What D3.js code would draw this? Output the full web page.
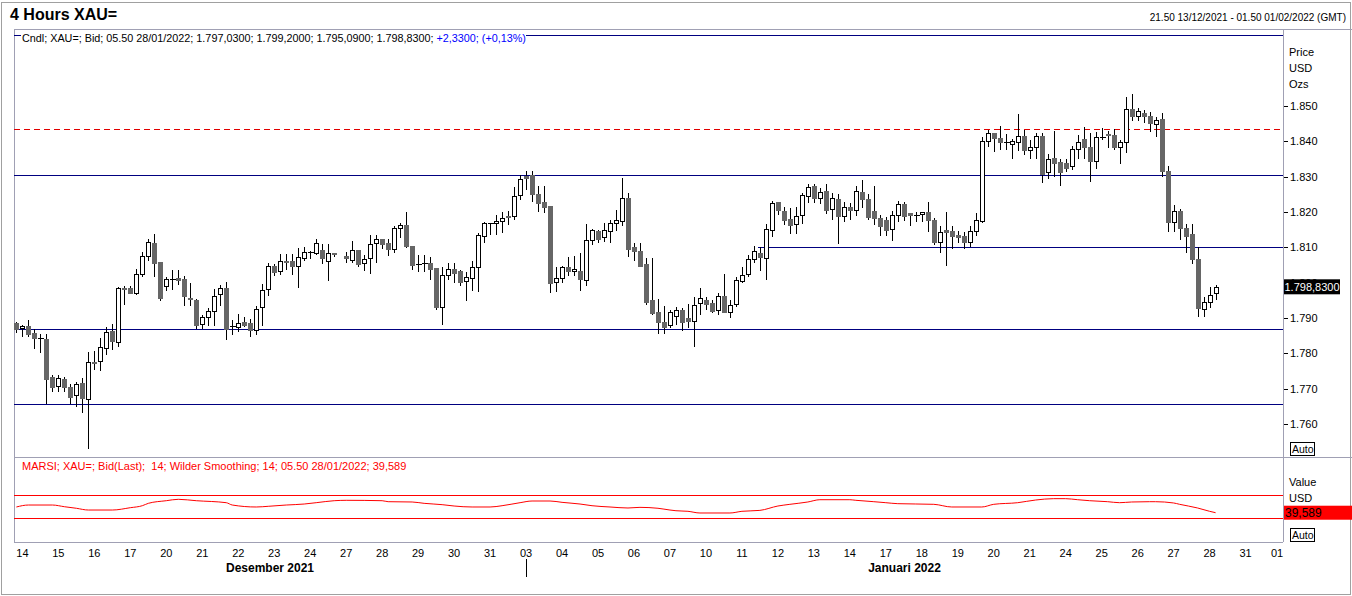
<!DOCTYPE html>
<html>
<head>
<meta charset="utf-8">
<script src="https://cdn.jsdelivr.net/npm/d3@7/dist/d3.min.js"></script>
<style>
  html, body { margin: 0; padding: 0; background: #fff; }
  svg { display: block; font-family: Arial, 'Liberation Sans', sans-serif; }
  text { white-space: pre; }
</style>
</head>
<body>
<svg id="chart" width="1352" height="596"></svg>
<script>
// trading days on the time axis, six 4h slots per day
const dayLabels = ['14', '15', '16', '17', '20', '21', '22', '23', '24', '27', '28', '29', '30', '31',
  '03', '04', '05', '06', '07', '10', '11', '12', '13', '14', '17', '18', '19', '20', '21',
  '24', '25', '26', '27', '28', '31', '01'];
const monthLabels = ['Desember 2021', 'Januari 2022'];
const monthFirstDay = [0, 14];

const priceTicks = [1760, 1770, 1780, 1790, 1800, 1810, 1820, 1830, 1840, 1850];

// horizontal lines drawn on the price panel
const levelPrice = [1870.1, 1843.4, 1830.4, 1810.1, 1786.9, 1765.6];
const levelFromSlot = [null, null, null, 123.7, null, null];
const levelDashed = [false, true, false, false, false, false];

// 4h candles [open, high, low, close], null = empty slot
const candles = [
  [1788.6, 1788.9, 1785.8, 1787.0], [1786.9, 1787.9, 1784.5, 1787.6], [1787.7, 1789.4, 1784.5, 1785.5],
  [1785.7, 1787.0, 1781.1, 1784.4], [1784.3, 1785.4, 1780.2, 1784.3], [1784.0, 1785.4, 1765.6, 1772.8],
  [1773.2, 1773.8, 1769.1, 1770.5], [1770.5, 1773.8, 1769.1, 1772.9], [1772.6, 1773.2, 1769.1, 1770.3],
  [1770.5, 1771.3, 1765.6, 1767.7], [1768.1, 1771.8, 1764.9, 1771.2], [1771.5, 1772.9, 1763.2, 1767.2],
  [1767.2, 1780.4, 1753.0, 1777.6], [1777.6, 1780.6, 1775.3, 1777.3], [1777.6, 1784.2, 1775.1, 1781.7],
  [1781.7, 1787.5, 1779.5, 1786.1], [1786.4, 1788.3, 1780.9, 1783.6], [1783.0, 1798.8, 1781.9, 1798.4],
  [1798.6, 1799.0, 1793.7, 1798.3], [1798.6, 1799.0, 1796.8, 1797.1], [1797.1, 1804.0, 1796.5, 1802.4],
  [1802.4, 1808.7, 1801.5, 1807.5], [1807.5, 1812.5, 1806.2, 1811.4], [1811.3, 1813.9, 1801.5, 1805.6],
  [1805.8, 1805.8, 1794.9, 1795.6], [1799.0, 1801.5, 1797.7, 1800.9], [1800.9, 1803.7, 1797.9, 1800.9],
  [1801.2, 1803.7, 1799.3, 1800.5], [1800.9, 1801.9, 1793.4, 1796.0], [1795.8, 1799.8, 1793.4, 1795.4],
  [1795.2, 1795.4, 1786.8, 1788.0], [1788.3, 1790.8, 1787.0, 1790.2], [1790.2, 1792.7, 1787.7, 1792.0],
  [1792.0, 1798.1, 1787.7, 1796.2], [1796.8, 1799.3, 1793.4, 1798.6], [1798.4, 1800.3, 1783.8, 1786.8],
  [1787.5, 1789.4, 1785.2, 1787.6], [1787.5, 1791.0, 1786.1, 1788.5], [1788.9, 1790.4, 1787.5, 1788.1],
  [1788.5, 1789.6, 1784.5, 1786.6], [1786.6, 1793.4, 1785.2, 1792.5], [1793.0, 1799.6, 1787.7, 1797.9],
  [1798.1, 1805.5, 1796.2, 1804.7], [1804.7, 1805.3, 1801.9, 1803.1], [1803.2, 1808.1, 1802.1, 1806.0],
  [1806.1, 1808.0, 1803.6, 1805.7], [1806.2, 1808.1, 1802.1, 1804.8], [1804.7, 1809.7, 1798.4, 1807.2],
  [1806.9, 1810.2, 1806.0, 1808.6], [1808.7, 1809.1, 1806.6, 1808.8], [1808.6, 1812.3, 1807.7, 1811.3],
  [1809.2, 1810.9, 1805.3, 1806.8], [1806.0, 1810.9, 1800.6, 1808.3], [1808.4, 1808.4, 1807.2, 1808.0],
  null,
  [1807.5, 1808.8, 1805.5, 1806.8], [1806.4, 1811.8, 1805.7, 1809.2], [1809.2, 1809.2, 1804.5, 1805.3],
  [1805.5, 1807.8, 1803.4, 1806.6], [1806.8, 1813.5, 1802.5, 1810.9], [1811.1, 1813.5, 1805.5, 1812.3],
  [1812.3, 1812.3, 1809.6, 1810.9], [1811.3, 1812.3, 1807.6, 1809.5], [1809.4, 1816.0, 1808.3, 1815.4],
  [1815.4, 1817.0, 1812.6, 1816.2], [1816.3, 1819.9, 1809.7, 1810.4], [1810.4, 1810.4, 1803.6, 1805.1],
  [1805.5, 1807.8, 1803.1, 1805.4], [1805.4, 1807.8, 1803.1, 1805.5], [1805.7, 1807.4, 1800.8, 1804.0],
  [1804.2, 1804.2, 1792.2, 1793.2], [1793.2, 1804.5, 1788.0, 1802.3], [1802.3, 1805.6, 1800.7, 1804.0],
  [1804.0, 1805.6, 1800.0, 1802.8], [1803.3, 1803.6, 1799.0, 1800.3], [1800.3, 1803.1, 1794.9, 1801.5],
  [1801.2, 1806.2, 1797.7, 1804.3], [1804.3, 1814.1, 1797.4, 1813.4], [1813.0, 1817.2, 1811.1, 1816.8],
  [1816.8, 1817.0, 1813.5, 1816.8], [1816.8, 1819.1, 1813.5, 1817.4], [1817.3, 1820.1, 1814.1, 1818.2],
  [1818.9, 1820.4, 1816.3, 1818.5], [1818.7, 1827.2, 1817.7, 1824.5], [1824.7, 1830.5, 1823.4, 1829.3],
  [1830.3, 1831.6, 1826.2, 1829.8], [1830.4, 1831.6, 1822.9, 1825.0], [1825.1, 1827.3, 1820.1, 1822.6],
  [1822.8, 1827.3, 1819.8, 1821.5], [1821.7, 1821.7, 1797.2, 1800.0], [1800.3, 1804.3, 1797.4, 1801.3],
  [1801.3, 1804.7, 1800.0, 1804.3], [1804.3, 1807.2, 1801.9, 1803.2], [1803.2, 1807.5, 1801.9, 1803.9],
  [1803.3, 1808.3, 1797.7, 1801.1], [1800.9, 1816.6, 1799.0, 1812.2], [1811.9, 1815.3, 1810.6, 1814.8],
  [1814.6, 1814.9, 1811.3, 1812.4], [1812.7, 1817.0, 1811.6, 1814.8], [1814.8, 1817.7, 1811.3, 1817.0],
  [1816.8, 1820.5, 1814.7, 1817.7], [1817.4, 1829.5, 1816.0, 1823.9], [1823.9, 1825.3, 1807.3, 1809.6],
  [1810.0, 1811.3, 1806.2, 1808.8], [1808.9, 1811.3, 1804.3, 1804.7], [1805.3, 1806.9, 1793.7, 1794.6],
  [1795.1, 1806.9, 1790.8, 1791.3], [1791.6, 1795.3, 1785.6, 1788.9], [1789.0, 1793.4, 1785.5, 1787.5],
  [1787.9, 1792.3, 1787.1, 1791.6], [1790.7, 1793.0, 1787.9, 1792.4], [1792.3, 1792.9, 1786.4, 1788.9],
  [1790.0, 1793.9, 1787.3, 1789.2], [1789.2, 1796.0, 1781.9, 1793.6], [1794.1, 1798.5, 1790.8, 1795.6],
  [1795.1, 1796.0, 1792.2, 1794.1], [1794.3, 1795.1, 1791.5, 1792.1], [1792.1, 1797.0, 1790.8, 1796.2],
  [1796.2, 1802.4, 1791.5, 1791.8], [1791.7, 1795.1, 1789.9, 1793.6], [1793.9, 1801.5, 1793.0, 1800.7],
  [1800.7, 1804.3, 1799.8, 1802.3], [1802.3, 1807.8, 1801.5, 1806.6], [1806.6, 1810.4, 1805.5, 1808.9],
  [1808.3, 1810.0, 1803.4, 1807.2], [1806.9, 1816.5, 1800.7, 1815.1], [1814.9, 1823.2, 1812.8, 1822.6],
  [1822.7, 1822.8, 1819.1, 1820.4], [1820.3, 1821.5, 1816.3, 1817.7], [1818.1, 1821.2, 1813.8, 1816.5],
  [1816.6, 1821.5, 1813.9, 1818.9], [1818.9, 1825.5, 1816.6, 1824.7], [1824.5, 1827.9, 1822.6, 1827.0],
  [1827.3, 1827.9, 1822.6, 1823.9], [1823.9, 1826.7, 1822.4, 1825.7], [1825.9, 1827.9, 1819.4, 1820.5],
  [1820.7, 1825.5, 1817.7, 1823.9], [1823.6, 1825.1, 1810.9, 1818.9], [1818.7, 1822.9, 1817.2, 1821.3],
  [1821.3, 1822.6, 1817.7, 1820.4], [1820.4, 1827.4, 1818.9, 1825.9], [1825.7, 1829.1, 1821.0, 1823.6],
  [1823.7, 1825.1, 1817.6, 1818.7], [1820.3, 1827.4, 1816.3, 1818.2], [1818.2, 1819.2, 1813.2, 1816.0],
  [1817.7, 1818.7, 1813.2, 1814.9], [1815.1, 1820.2, 1811.9, 1819.1], [1819.1, 1823.1, 1817.3, 1822.2],
  [1822.3, 1822.8, 1817.5, 1819.0], [1819.7, 1819.7, 1816.0, 1819.0], [1819.2, 1819.9, 1817.3, 1819.2],
  [1819.3, 1820.1, 1817.3, 1819.9], [1819.9, 1822.8, 1814.4, 1817.5], [1817.7, 1818.2, 1810.7, 1811.6],
  [1811.6, 1815.9, 1808.3, 1814.4], [1814.9, 1819.9, 1804.8, 1814.4], [1814.6, 1815.9, 1809.4, 1813.3],
  [1813.6, 1814.7, 1811.3, 1813.0], [1813.2, 1814.4, 1809.4, 1811.6], [1811.6, 1816.0, 1810.0, 1814.6],
  [1814.6, 1819.6, 1813.2, 1817.7], [1817.5, 1841.3, 1817.0, 1840.1], [1840.1, 1843.2, 1838.5, 1842.3],
  [1842.3, 1842.5, 1837.1, 1840.9], [1841.0, 1844.2, 1837.5, 1839.9], [1839.7, 1842.1, 1837.5, 1839.7],
  [1839.4, 1840.8, 1834.9, 1840.2], [1839.9, 1847.7, 1837.4, 1841.5], [1841.5, 1843.2, 1836.1, 1837.4],
  [1837.4, 1840.4, 1835.1, 1838.3], [1838.3, 1842.5, 1834.9, 1841.5], [1841.5, 1842.5, 1828.1, 1830.8],
  [1831.1, 1836.4, 1829.2, 1834.9], [1835.3, 1843.0, 1830.0, 1834.0], [1834.2, 1834.9, 1827.4, 1831.4],
  [1833.8, 1834.9, 1831.2, 1832.5], [1832.8, 1838.7, 1831.8, 1837.7], [1837.7, 1841.7, 1834.9, 1839.7],
  [1840.6, 1844.0, 1834.9, 1838.4], [1838.4, 1842.5, 1828.4, 1834.4], [1834.6, 1842.7, 1832.3, 1841.3],
  [1841.1, 1843.8, 1840.3, 1841.1], [1842.0, 1842.9, 1838.2, 1841.6], [1841.7, 1843.5, 1837.5, 1838.4],
  [1838.3, 1840.3, 1833.7, 1839.7], [1839.7, 1852.6, 1836.8, 1849.1], [1849.1, 1853.5, 1845.7, 1847.0],
  [1847.0, 1849.3, 1845.7, 1848.5], [1847.9, 1848.8, 1845.1, 1847.1], [1847.1, 1848.4, 1842.7, 1845.1],
  [1844.8, 1846.9, 1841.3, 1846.0], [1846.3, 1847.9, 1830.0, 1831.6], [1831.6, 1833.1, 1814.4, 1817.2],
  [1817.2, 1821.9, 1814.4, 1820.4], [1820.4, 1820.8, 1812.0, 1815.5], [1815.6, 1816.5, 1808.3, 1813.3],
  [1813.9, 1816.5, 1805.4, 1806.8], [1806.7, 1810.1, 1790.2, 1792.7], [1792.7, 1796.0, 1790.3, 1794.6],
  [1794.4, 1798.8, 1792.7, 1796.5], [1797.03, 1799.2, 1795.09, 1798.83]
];

// MARSI readings (slot, value)
const rsiSlot = [0, 2, 6, 8, 10, 12, 16, 19, 21, 22, 25, 27, 30, 35, 36, 40, 42, 45, 48, 50,
  53, 55, 61, 62, 66, 68, 71, 73, 76, 79, 81, 84, 86, 89, 91, 94, 96, 99, 102, 104,
  107, 109, 110, 112, 114, 119, 121, 124, 127, 129, 132, 134, 139, 140, 143, 145, 147, 153, 156, 161,
  163, 167, 170, 173, 175, 177, 179, 182, 184, 186, 189, 190, 193, 194, 197, 199, 200];
const rsiValue = [49.4, 52.8, 52.8, 49.9, 47.2, 44.2, 44.2, 48.2, 51.6, 55.7, 60.2, 62.6, 60.2, 56.8, 52.8, 49.4, 50.6, 52.8, 54.5, 56.8,
  60.2, 60.9, 60.2, 58.5, 58.0, 55.7, 53.4, 51.1, 49.4, 49.4, 51.6, 56.8, 59.7, 59.7, 57.4, 54.5, 51.6, 49.4, 47.7, 48.8,
  47.2, 44.2, 43.0, 42.0, 39.1, 39.1, 42.0, 43.6, 51.1, 54.0, 58.0, 61.9, 61.9, 60.9, 58.5, 56.8, 55.1, 54.0, 49.4, 49.4,
  54.0, 56.8, 61.4, 63.7, 63.7, 61.9, 60.2, 58.5, 56.8, 58.0, 58.5, 58.5, 56.3, 54.0, 47.7, 42.0, 39.589];
const rsiBands = [30, 70];

const title = '4 Hours XAU=';
const rangeText = '21.50 13/12/2021 - 01.50 01/02/2022 (GMT)';
const quoteText = 'Cndl; XAU=; Bid; 05.50 28/01/2022; 1.797,0300; 1.799,2000; 1.795,0900; 1.798,8300; ';
const changeText = '+2,3300; (+0,13%)';
const rsiText = 'MARSI; XAU=; Bid(Last);  14; Wilder Smoothing; 14; 05.50 28/01/2022; 39,589';
const lastPriceText = '1.798,8300';
const lastRsiText = '39,589';

const W = 1352, H = 596;
const plot = { left: 14, right: 1283, top: 29, mid: 457, bottom: 542 };
const svg = d3.select('#chart');

const x = d3.scaleLinear().domain([0, 200]).range([16.4, 16.4 + 200 * 5.996]);
const y = d3.scaleLinear().domain([1760, 1850]).range([424, 106]);
const yR = d3.scaleLinear().domain(rsiBands).range([518.3, 495]);
const slotX = (i) => Math.round(x(i)) + 0.5;
const fmtPrice = (v) => d3.format(',')(v).replace(',', '.');

// frames
svg.append('rect').attr('x', 1.5).attr('y', 2.5).attr('width', W - 3).attr('height', H - 4)
  .attr('fill', '#fff').attr('stroke', '#a0a0a0');
const frame = svg.append('g').attr('stroke', '#a0a0b4').attr('shape-rendering', 'crispEdges');
frame.append('line').attr('x1', plot.left).attr('x2', plot.left).attr('y1', plot.top).attr('y2', plot.bottom);
frame.append('line').attr('x1', plot.right).attr('x2', plot.right).attr('y1', plot.top).attr('y2', plot.bottom);
frame.append('line').attr('x1', plot.left).attr('x2', W).attr('y1', plot.top).attr('y2', plot.top);
frame.append('line').attr('x1', plot.left).attr('x2', W).attr('y1', plot.mid).attr('y2', plot.mid);
frame.append('line').attr('x1', plot.left).attr('x2', plot.right).attr('y1', plot.bottom).attr('y2', plot.bottom);

svg.append('text').attr('x', 10).attr('y', 20).attr('font-size', 16).attr('font-weight', 'bold')
  .text(title);
svg.append('text').attr('x', 1346).attr('y', 21).attr('font-size', 10).attr('text-anchor', 'end')
  .text(rangeText);

// level lines
const levels = levelPrice.map((p, i) => ({ p, from: levelFromSlot[i], dashed: levelDashed[i] }));
svg.append('g').attr('shape-rendering', 'crispEdges')
  .selectAll('line').data(levels).enter().append('line')
  .attr('x1', (d) => (d.from === null ? plot.left : x(d.from)))
  .attr('x2', plot.right)
  .attr('y1', (d) => Math.round(y(d.p)) + 0.5)
  .attr('y2', (d) => Math.round(y(d.p)) + 0.5)
  .attr('stroke', (d) => (d.dashed ? '#e00000' : '#000080'))
  .attr('stroke-dasharray', (d) => (d.dashed ? '6,4' : null));

// quote legend over the top line
const leg = svg.append('g');
leg.append('rect').attr('x', 21).attr('y', 31).attr('width', 505).attr('height', 13).attr('fill', '#fff');
const legText = leg.append('text').attr('x', 22).attr('y', 41.5).attr('font-size', 10.8);
legText.append('tspan').attr('fill', '#000').text(quoteText);
legText.append('tspan').attr('fill', '#0000ff').text(changeText);

// candles
const bars = candles
  .map((d, i) => (d ? { i, o: d[0], h: d[1], l: d[2], c: d[3] } : null))
  .filter((d) => d);
const cg = svg.append('g').attr('shape-rendering', 'crispEdges');
cg.selectAll('line.wick').data(bars).enter().append('line')
  .attr('class', 'wick')
  .attr('x1', (d) => slotX(d.i)).attr('x2', (d) => slotX(d.i))
  .attr('y1', (d) => y(d.h)).attr('y2', (d) => y(d.l))
  .attr('stroke', '#000');
cg.selectAll('rect.body').data(bars.filter((d) => Math.abs(d.o - d.c) >= 0.2)).enter().append('rect')
  .attr('class', 'body')
  .attr('x', (d) => slotX(d.i) - 2)
  .attr('y', (d) => Math.round(y(Math.max(d.o, d.c))) + 0.5)
  .attr('width', 4)
  .attr('height', (d) => Math.max(1, Math.round(Math.abs(y(d.o) - y(d.c)))))
  .attr('fill', (d) => (d.c > d.o ? '#fff' : '#666'))
  .attr('stroke', (d) => (d.c > d.o ? '#000' : '#666'));
cg.selectAll('line.doji').data(bars.filter((d) => Math.abs(d.o - d.c) < 0.2)).enter().append('line')
  .attr('class', 'doji')
  .attr('x1', (d) => slotX(d.i) - 2.5).attr('x2', (d) => slotX(d.i) + 3.5)
  .attr('y1', (d) => Math.round(y(d.c)) + 0.5).attr('y2', (d) => Math.round(y(d.c)) + 0.5)
  .attr('stroke', '#000');

// right price axis
const pa = svg.append('g').attr('font-size', 11);
pa.selectAll('text.unit').data(['Price', 'USD', 'Ozs']).enter().append('text')
  .attr('class', 'unit').attr('x', 1289).attr('y', (d, i) => 56 + i * 16).text((d) => d);
pa.selectAll('line.tick').data(priceTicks).enter().append('line')
  .attr('class', 'tick').attr('x1', plot.right + 1).attr('x2', plot.right + 5)
  .attr('y1', (d) => Math.round(y(d)) + 0.5).attr('y2', (d) => Math.round(y(d)) + 0.5)
  .attr('stroke', '#000');
pa.selectAll('text.tick').data(priceTicks).enter().append('text')
  .attr('class', 'tick').attr('x', 1290).attr('y', (d) => y(d) + 4).text(fmtPrice);
const lastClose = bars[bars.length - 1].c;
pa.append('rect').attr('x', plot.right + 1).attr('y', y(lastClose) - 7.5).attr('width', 56).attr('height', 15)
  .attr('fill', '#000');
pa.append('text').attr('x', plot.right + 1.5).attr('y', y(lastClose) + 4.5).attr('fill', '#fff')
  .attr('font-size', 11).text(lastPriceText);

const autoBox = (yTop) => {
  pa.append('rect').attr('x', 1290.5).attr('y', yTop + 0.5).attr('width', 24).attr('height', 13)
    .attr('fill', '#fff').attr('stroke', '#000');
  pa.append('text').attr('x', 1292).attr('y', yTop + 11).attr('font-size', 10.5).text('Auto');
};
autoBox(442);

// RSI panel
svg.append('text').attr('x', 22).attr('y', 469.5).attr('font-size', 11).attr('fill', '#ff0000')
  .text(rsiText);
svg.append('g').attr('shape-rendering', 'crispEdges')
  .selectAll('line').data(rsiBands).enter().append('line')
  .attr('x1', plot.left).attr('x2', plot.right)
  .attr('y1', (d) => Math.round(yR(d)) + 0.5).attr('y2', (d) => Math.round(yR(d)) + 0.5)
  .attr('stroke', '#ff0000');
const rsiLine = d3.line()
  .x((d) => x(d[0]))
  .y((d) => yR(d[1]))
  .curve(d3.curveMonotoneX);
svg.append('path').datum(rsiSlot.map((s, i) => [s, rsiValue[i]]))
  .attr('d', rsiLine).attr('fill', 'none').attr('stroke', '#ff0000').attr('stroke-width', 1);

pa.selectAll('text.vunit').data(['Value', 'USD']).enter().append('text')
  .attr('class', 'vunit').attr('x', 1289).attr('y', (d, i) => 486 + i * 15.5).text((d) => d);
const lastRsi = rsiValue[rsiValue.length - 1];
pa.append('rect').attr('x', plot.right + 1).attr('y', yR(lastRsi) - 7).attr('width', W - plot.right - 1).attr('height', 14)
  .attr('fill', '#ff0000');
pa.append('text').attr('x', plot.right + 2).attr('y', yR(lastRsi) + 4.5).attr('font-size', 12)
  .attr('fill', '#000').text(lastRsiText);
autoBox(528);

// time axis
const days = dayLabels.map((label, k) => ({ label, k, slot: 6 * k + 1 }));
svg.append('g').attr('font-size', 11).attr('text-anchor', 'middle')
  .selectAll('text').data(days).enter().append('text')
  .attr('x', (d) => Math.min(x(d.slot), plot.right - 6))
  .attr('y', 557)
  .text((d) => d.label);

const bounds = monthFirstDay.map((k) => (k === 0 ? plot.left : x(6 * k + 1)));
svg.append('g').attr('font-size', 12).attr('font-weight', 'bold').attr('text-anchor', 'middle')
  .selectAll('text').data(monthLabels).enter().append('text')
  .attr('x', (d, i) => ((i === 0 ? plot.left : bounds[i]) + (bounds[i + 1] || plot.right)) / 2)
  .attr('y', 572)
  .text((d) => d);
// month boundary mark
svg.append('g').attr('shape-rendering', 'crispEdges')
  .selectAll('line').data(monthFirstDay.filter((k) => k > 0)).enter().append('line')
  .attr('x1', (k) => Math.round(x(6 * k + 1)) + 0.5).attr('x2', (k) => Math.round(x(6 * k + 1)) + 0.5)
  .attr('y1', 559).attr('y2', 577).attr('stroke', '#000');
</script>
</body>
</html>
